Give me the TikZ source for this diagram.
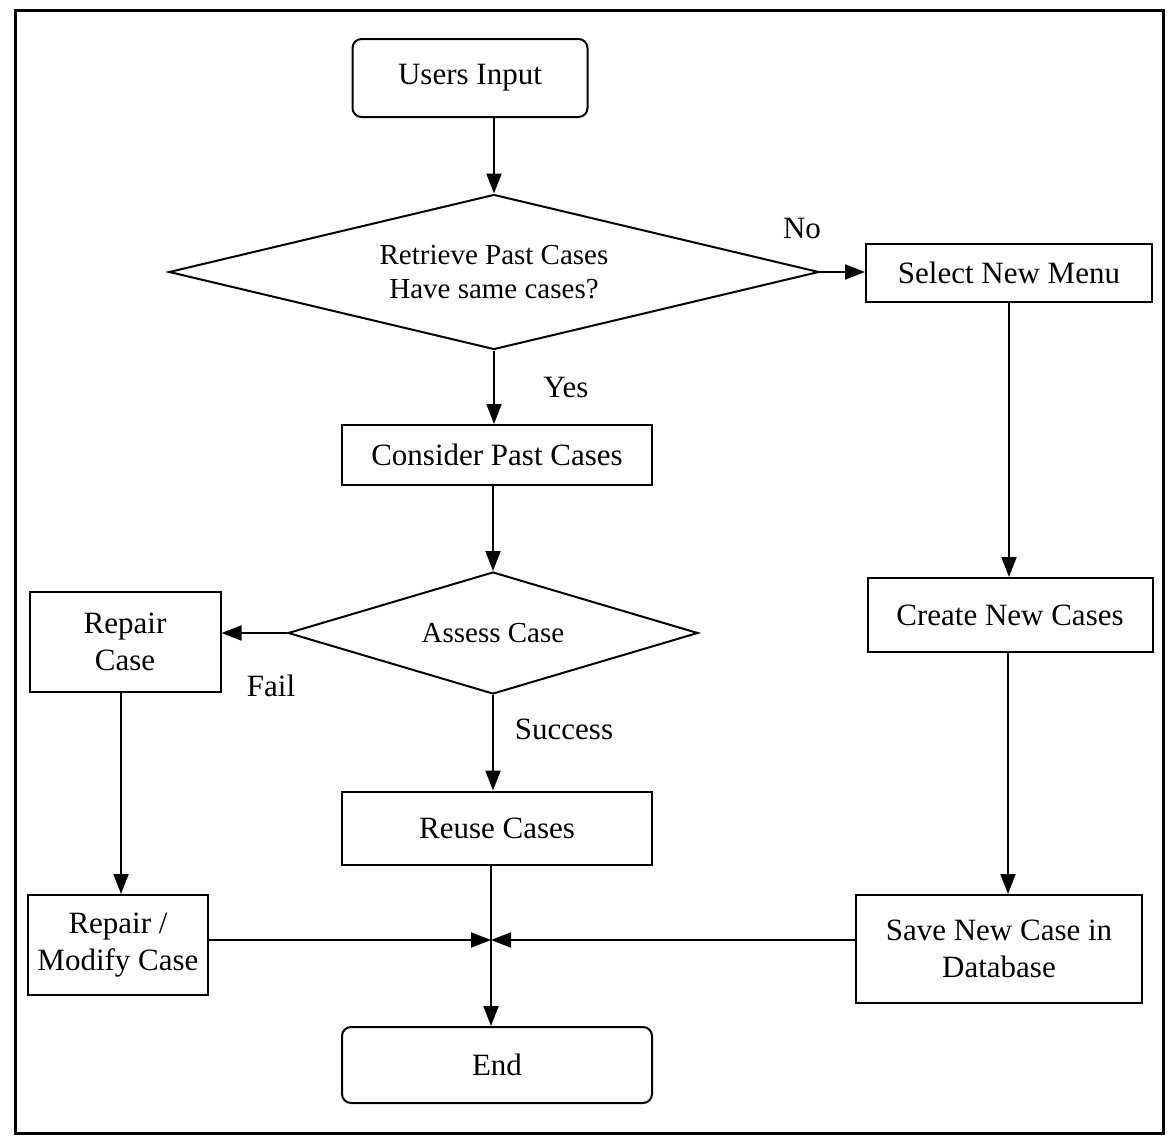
\documentclass[tikz,border=0pt]{standalone}
\usepackage{fontspec}
\setmainfont{Liberation Serif}
\usetikzlibrary{shapes.geometric,arrows.meta}
\newcommand{\boxfnt}{\fontsize{31}{37}\selectfont}
\newcommand{\diafnt}{\fontsize{29}{34}\selectfont}
\begin{document}
\begin{tikzpicture}[x=1pt,y=-1pt,
  box/.style={draw, line width=2pt, inner sep=0pt, align=center, font=\boxfnt},
  rbox/.style={box, rounded corners=9pt},
  dia/.style={draw, diamond, line width=2pt, inner sep=0pt, align=center, font=\diafnt},
  arr/.style={line width=2pt, -{Triangle[length=20pt,width=15pt]}},
  ln/.style={line width=2pt},
  lbl/.style={font=\boxfnt, inner sep=0pt}]
\useasboundingbox (0,0) rectangle (1171,1143);
\draw[line width=3pt] (15,10) rectangle (1163,1133);

\node[rbox, minimum width=235pt, minimum height=78pt] (ui) at (470,78) {Users Input};
\node[dia, shape aspect=4.19, minimum width=650pt, minimum height=155pt] (d1) at (494,272) {Retrieve Past Cases\\Have same cases?};
\node[box, minimum width=286pt, minimum height=58pt] (snm) at (1009,273) {Select New Menu};
\node[box, minimum width=310pt, minimum height=60pt] (cpc) at (497,455) {Consider Past Cases};
\node[dia, shape aspect=3.36, minimum width=410pt, minimum height=122pt] (d2) at (493,633) {Assess Case};
\node[box, minimum width=191pt, minimum height=100pt] (rc) at (125,642) {Repair\\Case};
\node[box, minimum width=285pt, minimum height=74pt] (cnc) at (1010,615) {Create New Cases};
\node[box, minimum width=310pt, minimum height=73pt] (ruc) at (497,828) {Reuse Cases};
\node[box, minimum width=180pt, minimum height=100pt] (rmc) at (118,945) {Repair /\\Modify Case};
\node[box, minimum width=286pt, minimum height=108pt] (sav) at (999,949) {Save New Case in\\Database};
\node[rbox, minimum width=310pt, minimum height=76pt] (end) at (497,1065) {End};

\coordinate (j) at (491,940);

\draw[arr] (d1.north |- ui.south) -- (d1.north);
\draw[arr] (d1.east) -- (d1.east -| snm.west);
\draw[arr] (d1.south) -- (d1.south |- cpc.north);
\draw[arr] (d2.north |- cpc.south) -- (d2.north);
\draw[arr] (d2.west) -- (d2.west -| rc.east);
\draw[arr] (d2.south) -- (d2.south |- ruc.north);
\draw[arr] (rc.south -| 121,0) -- (rmc.north -| 121,0);
\draw[ln] (j |- ruc.south) -- (j);
\draw[arr] (j) -- (j |- end.north);
\draw[arr] (rmc.east |- j) -- (j);
\draw[arr] (sav.west |- j) -- (j);
\draw[arr] (snm.south -| 1009,0) -- (cnc.north -| 1009,0);
\draw[arr] (cnc.south -| 1008,0) -- (sav.north -| 1008,0);

\node[lbl] (no) at (802,228) {No};
\node[lbl] (yes) at (566,387) {Yes};
\node[lbl] (fail) at (271,686) {Fail};
\node[lbl] (suc) at (564,729) {Success};
\end{tikzpicture}
\end{document}
